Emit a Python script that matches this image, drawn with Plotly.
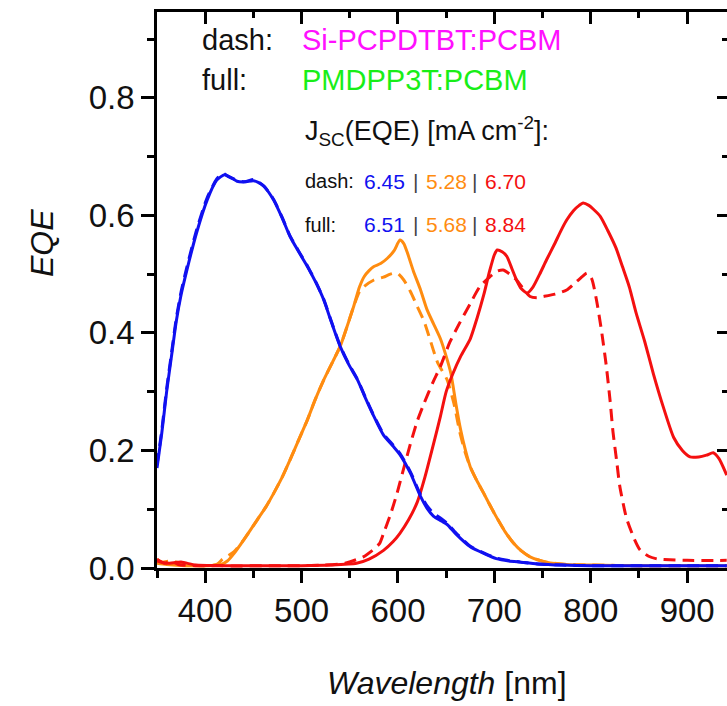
import plotly.graph_objects as go

# ---------------- data ----------------
blue_full_wl = [350, 355, 360, 365, 370, 375, 381, 391, 402, 412, 420, 427, 433, 441, 450, 455, 461, 471, 480, 488,
                497, 506, 515, 523, 531, 540, 549, 558, 566, 575, 585, 595, 602, 613, 623, 630, 637, 645, 651, 660,
                675, 690, 702, 715, 727, 745, 770, 800, 850, 900, 941]
blue_full_eqe = [0.17, 0.23, 0.30, 0.36, 0.42, 0.465, 0.507, 0.57, 0.626, 0.660, 0.669, 0.664, 0.658, 0.657, 0.659, 0.656,
                 0.649, 0.626, 0.595, 0.564, 0.538, 0.513, 0.485, 0.456, 0.418, 0.377, 0.346, 0.320, 0.290, 0.258, 0.226,
                 0.207, 0.193, 0.161, 0.123, 0.102, 0.088, 0.080, 0.074, 0.058, 0.036, 0.024, 0.016, 0.012, 0.010,
                 0.007, 0.005, 0.004, 0.004, 0.004, 0.004]

blue_dash_wl = [350, 355, 360, 365, 370, 375, 381, 391, 402, 412, 418, 424, 433, 441, 450, 455, 461, 471, 480, 488,
                497, 506, 515, 523, 531, 540, 549, 558, 566, 575, 585, 595, 602, 613, 623, 630, 637, 645, 651, 660,
                675, 690, 702, 715, 727, 745, 770, 800, 850, 900, 941]
blue_dash_eqe = [0.175, 0.235, 0.305, 0.365, 0.425, 0.47, 0.512, 0.575, 0.63, 0.662, 0.672, 0.666, 0.660, 0.657, 0.661,
                 0.657, 0.650, 0.627, 0.596, 0.565, 0.539, 0.514, 0.486, 0.457, 0.419, 0.378, 0.347, 0.321, 0.291,
                 0.259, 0.228, 0.209, 0.195, 0.163, 0.126, 0.106, 0.093, 0.084, 0.076, 0.060, 0.037, 0.025, 0.017,
                 0.013, 0.010, 0.007, 0.005, 0.004, 0.004, 0.004, 0.004]

orange_full_wl = [350, 360, 380, 400, 415, 423, 430, 440, 454, 463, 471, 480, 488, 497, 506, 514, 523, 532, 540, 547,
                  554, 560, 565, 570, 575, 582, 589, 596, 602, 606, 610, 616, 623, 630, 637, 644, 650, 655, 660, 665,
                  670, 675, 682, 689, 695, 702, 711, 720, 728, 737, 754, 775, 800, 850, 941]
orange_full_eqe = [0.008, 0.006, 0.004, 0.004, 0.005, 0.012, 0.025, 0.048, 0.082, 0.104, 0.127, 0.155, 0.184, 0.218,
                   0.252, 0.286, 0.320, 0.350, 0.377, 0.410, 0.445, 0.478, 0.496, 0.506, 0.513, 0.518, 0.527, 0.540,
                   0.558, 0.552, 0.535, 0.505, 0.475, 0.440, 0.415, 0.390, 0.360, 0.330, 0.280, 0.235, 0.200, 0.172,
                   0.148, 0.127, 0.108, 0.087, 0.062, 0.042, 0.029, 0.019, 0.010, 0.006, 0.005, 0.004, 0.004]

orange_dash_wl = [350, 355, 365, 380, 400, 412, 418, 425, 430, 440, 454, 463, 471, 480, 488, 497, 506, 514, 523, 532,
                  540, 547, 554, 560, 565, 575, 585, 592, 599, 606, 613, 620, 627, 633, 641, 651, 658, 664, 670, 675,
                  682, 689, 695, 702, 711, 720, 728, 737, 754, 775, 800, 850, 941]
orange_dash_eqe = [0.015, 0.010, 0.012, 0.006, 0.004, 0.006, 0.015, 0.022, 0.028, 0.048, 0.082, 0.104, 0.127, 0.155,
                   0.184, 0.218, 0.252, 0.286, 0.320, 0.350, 0.377, 0.410, 0.445, 0.470, 0.479, 0.490, 0.495, 0.500,
                   0.502, 0.490, 0.470, 0.445, 0.420, 0.390, 0.350, 0.320, 0.280, 0.232, 0.195, 0.172, 0.148, 0.127,
                   0.108, 0.087, 0.062, 0.042, 0.029, 0.019, 0.010, 0.006, 0.005, 0.004, 0.004]

red_full_wl = [350, 360, 375, 390, 420, 500, 530, 557, 570, 585, 595, 602, 611, 620, 628, 637, 644, 650, 657, 665,
               675, 682, 689, 695, 700, 703, 708, 713, 718, 723, 728, 734, 740, 747, 754, 762, 770, 775, 782, 788,
               792, 798, 803, 810, 818, 826, 833, 840, 847, 856, 865, 875, 886, 895, 903, 912, 920, 927, 933, 941]
red_full_eqe = [0.012, 0.008, 0.010, 0.005, 0.004, 0.004, 0.005, 0.008, 0.015, 0.030, 0.045, 0.059, 0.082, 0.112,
                0.155, 0.212, 0.258, 0.300, 0.331, 0.360, 0.390, 0.425, 0.465, 0.505, 0.533, 0.541, 0.538, 0.530,
                0.510, 0.490, 0.475, 0.468, 0.478, 0.500, 0.524, 0.550, 0.577, 0.592, 0.608, 0.617, 0.621, 0.617,
                0.610, 0.598, 0.573, 0.545, 0.512, 0.478, 0.434, 0.385, 0.330, 0.275, 0.222, 0.200, 0.189, 0.189,
                0.192, 0.196, 0.186, 0.158]

red_dash_wl = [350, 358, 365, 372, 390, 500, 523, 545, 564, 575, 581, 585, 592, 599, 606, 613, 620, 627, 636, 644,
               654, 664, 675, 685, 695, 703, 709, 716, 723, 730, 737, 744, 751, 763, 775, 785, 792, 796, 801, 806,
               811, 816, 820, 823, 827, 830, 837, 845, 851, 860, 870, 882, 900, 941]
red_dash_eqe = [0.015, 0.008, 0.012, 0.006, 0.004, 0.004, 0.005, 0.008, 0.019, 0.032, 0.042, 0.059, 0.090, 0.127,
                0.170, 0.212, 0.250, 0.280, 0.315, 0.343, 0.385, 0.417, 0.450, 0.479, 0.495, 0.505, 0.507, 0.500,
                0.490, 0.475, 0.462, 0.460, 0.462, 0.466, 0.473, 0.487, 0.497, 0.502, 0.492, 0.455, 0.405, 0.345,
                0.285, 0.232, 0.180, 0.140, 0.085, 0.050, 0.031, 0.020, 0.015, 0.014, 0.013, 0.013]

jsc_dash = ["6.45", "5.28", "6.70"]
jsc_full = ["6.51", "5.68", "8.84"]

x_range = [350, 941.3]
y_range = [0, 0.946]

BLUE = "#1010F0"
ORANGE = "#FF8C10"
RED = "#F41010"
FONT = "Liberation Sans, Arial, sans-serif"

fig = go.Figure()
series = [
    (orange_full_wl, orange_full_eqe, ORANGE, "solid"),
    (orange_dash_wl, orange_dash_eqe, ORANGE, "12px,7px"),
    (red_dash_wl, red_dash_eqe, RED, "12px,7px"),
    (red_full_wl, red_full_eqe, RED, "solid"),
    (blue_dash_wl, blue_dash_eqe, BLUE, "12px,7px"),
    (blue_full_wl, blue_full_eqe, BLUE, "solid"),
]
for wl, eqe, col, dash in series:
    fig.add_trace(go.Scatter(x=wl, y=eqe, mode="lines",
                             line=dict(color=col, width=3, dash=dash, shape="spline", smoothing=0.6),
                             showlegend=False, hoverinfo="skip"))

# geometry of plot area in pixels
W, H = 727, 706
L, R, T, B = 157, 727, 12, 568


def px(x):
    return (x - L) / (R - L)


def py(y):
    return (B - y) / (B - T)


ann = []


def text(x, y, s, size, color="#111111", xanchor="left"):
    ann.append(dict(x=px(x), y=py(y), xref="paper", yref="paper", text=s, showarrow=False,
                    xanchor=xanchor, yanchor="middle", font=dict(family=FONT, size=size, color=color)))


text(200, 40, "dash:", 29)
text(300, 40, "Si-PCPDTBT:PCBM", 29, "#FF10FF")
text(200, 80, "full:", 29)
text(300, 80, "PMDPP3T:PCBM", 29, "#18EE18")
text(303, 131, "J<sub>SC</sub>(EQE) [mA cm<sup>-2</sup>]:", 27)

cols = [BLUE, ORANGE, RED]
for yy, lab, vals in [(181, "dash:", jsc_dash), (225, "full:", jsc_full)]:
    text(303, yy, lab, 20)
    text(407, yy, vals[0], 21, cols[0], xanchor="right")
    text(415, yy, "|", 21, "#444444", xanchor="center")
    text(424, yy, vals[1], 21, cols[1])
    text(474, yy, "|", 21, "#444444", xanchor="center")
    text(483, yy, vals[2], 21, cols[2])

text(447, 683, "<i>Wavelength</i> [nm]", 32, "#111111", xanchor="center")
ann.append(dict(x=px(42), y=py(243), xref="paper", yref="paper", text="<i>EQE</i>", showarrow=False,
                textangle=-90, xanchor="center", yanchor="middle",
                font=dict(family=FONT, size=32, color="#111111")))

common = dict(showgrid=False, zeroline=False, linecolor="black", linewidth=2.5,
              tickcolor="black", tickwidth=2.5)

fig.update_layout(
    width=W, height=H,
    margin=dict(l=L, r=W - R, t=T, b=H - B, pad=0),
    paper_bgcolor="white", plot_bgcolor="white",
    annotations=ann,
    xaxis=dict(range=x_range, tickmode="linear", tick0=0, dtick=100, ticks="outside", ticklen=12,
               showline=True, tickfont=dict(family=FONT, size=33, color="#111111"),
               minor=dict(dtick=50, tick0=0, ticks="outside", ticklen=7, tickcolor="black", tickwidth=2.5),
               **common),
    yaxis=dict(range=y_range, tickmode="linear", tick0=0, dtick=0.2, tickformat=".1f", ticks="outside",
               ticklen=13, showline=True, tickfont=dict(family=FONT, size=33, color="#111111"),
               minor=dict(dtick=0.1, tick0=0, ticks="outside", ticklen=7, tickcolor="black", tickwidth=2.5),
               **common),
    xaxis2=dict(range=x_range, overlaying="x", side="top", tickmode="linear", tick0=0, dtick=100,
                ticks="inside", ticklen=12, showticklabels=False, showline=True,
                minor=dict(dtick=50, tick0=0, ticks="inside", ticklen=6, tickcolor="black", tickwidth=2.5),
                **common),
    yaxis2=dict(range=y_range, overlaying="y", side="right", tickmode="linear", tick0=0, dtick=0.2,
                ticks="inside", ticklen=10, showticklabels=False, showline=False,
                minor=dict(dtick=0.1, tick0=0, ticks="inside", ticklen=5, tickcolor="black", tickwidth=2.5),
                **common),
)
# invisible helper trace so the mirrored axes are drawn
fig.add_trace(go.Scatter(x=[400], y=[0.5], xaxis="x2", yaxis="y2", mode="markers",
                         marker=dict(opacity=0), showlegend=False, hoverinfo="skip"))

fig.write_html("out.html")
